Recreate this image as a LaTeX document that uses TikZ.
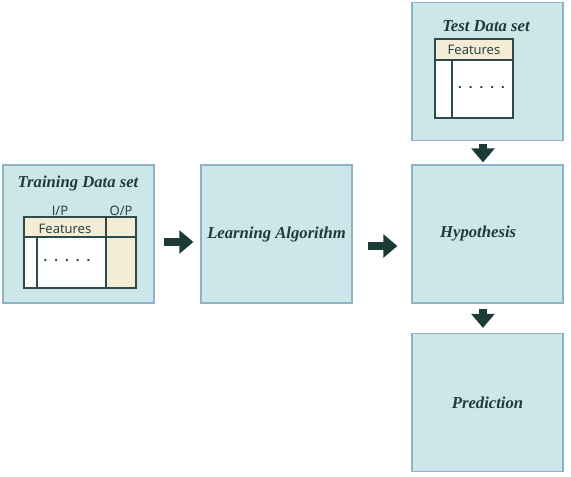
\documentclass[tikz,border=0pt]{standalone}
\usepackage{fontspec}
\newfontfamily\headfont{Liberation Serif}
\newfontfamily\cellfont{Open Sans}
\usetikzlibrary{arrows.meta}
\definecolor{boxfill}{HTML}{CDE6E9}
\definecolor{boxline}{HTML}{8DB3C7}
\definecolor{cream}{HTML}{F4ECD4}
\definecolor{tabline}{HTML}{2E4A4A}
\definecolor{ink}{HTML}{1E3B3B}
\definecolor{arrowc}{HTML}{1C3A36}
\newcommand{\dotrow}{\bfseries.\hspace{5.3pt}.\hspace{5.3pt}.\hspace{5.3pt}.\hspace{5.3pt}.}
\begin{document}
\begin{tikzpicture}[x=0.75pt,y=-0.75pt,
	box/.style={draw=boxline, fill=boxfill, line width=0.9pt, minimum width=113.25pt, minimum height=103.5pt, inner sep=0pt, text=ink, font=\headfont\bfseries\itshape\fontsize{12.5}{14}\selectfont},
	head/.style={text=ink, inner sep=0pt, font=\headfont\bfseries\itshape\fontsize{12.5}{14}\selectfont},
	celltext/.style={text=ink, inner sep=0pt, font=\cellfont\fontsize{9.8}{11}\selectfont},
	cell/.style={draw=tabline, line width=0.8pt},
	flow/.style={draw=arrowc, line width=6pt, -{Triangle[width=17pt,length=10.5pt]}}]
	
	\useasboundingbox (0,0) rectangle (571,476);
	
	\node[box] (Tr) at (78.5,234) {};
	\node[box] (LA) at (276.5,234) {Learning Algorithm};
	\node[box] (Hy) at (487.5,234) {\hspace*{-14pt}Hypothesis};
	\node[box] (Te) at (487.5,71.5) {};
	\node[box] (Pr) at (487.5,402.5) {Prediction};
	
	\node[head] (TrH) at (78,183) {Training Data set};
	\node[head] (TeH) at (486,26) {Test Data set};
	
	% training table
	\fill[white] (24,237) rectangle (106,288);
	\fill[cream] (24,217) rectangle (136,237);
	\fill[cream] (106,237) rectangle (136,288);
	\draw[cell] (24,217) rectangle (136,288);
	\draw[cell] (24,237) -- (136,237);
	\draw[cell] (106,217) -- (106,288);
	\draw[cell] (37,237) -- (37,288);
	\node[celltext] (TrF) at (65,229) {Features};
	\node[celltext] (TrI) at (60,211) {I/P};
	\node[celltext] (TrO) at (121,211) {O/P};
	\node[celltext] (TrD) at (67,261) {\dotrow};
	
	% test table
	\fill[white] (435,60) rectangle (513,118);
	\fill[cream] (435,39) rectangle (513,60);
	\draw[cell] (435,39) rectangle (513,118);
	\draw[cell] (435,60) -- (513,60);
	\draw[cell] (452,60) -- (452,118);
	\node[celltext] (TeF) at (474,50) {Features};
	\node[celltext] (TeD) at (481.5,88) {\dotrow};
	
	\draw[flow, shorten <=6.75pt, shorten >=5.25pt] ([yshift=-6pt]Tr.east) -- ([yshift=-6pt]LA.west);
	\draw[flow, shorten <=11.25pt, shorten >=10.5pt] ([yshift=-9pt]LA.east) -- ([yshift=-9pt]Hy.west);
	\draw[flow, shorten <=2.25pt, shorten >=1.5pt] ([xshift=-3.4pt]Te.south) -- ([xshift=-3.4pt]Hy.north);
	\draw[flow, shorten <=3.75pt, shorten >=3.75pt] ([xshift=-3.4pt]Hy.south) -- ([xshift=-3.4pt]Pr.north);

\end{tikzpicture}
\end{document}
